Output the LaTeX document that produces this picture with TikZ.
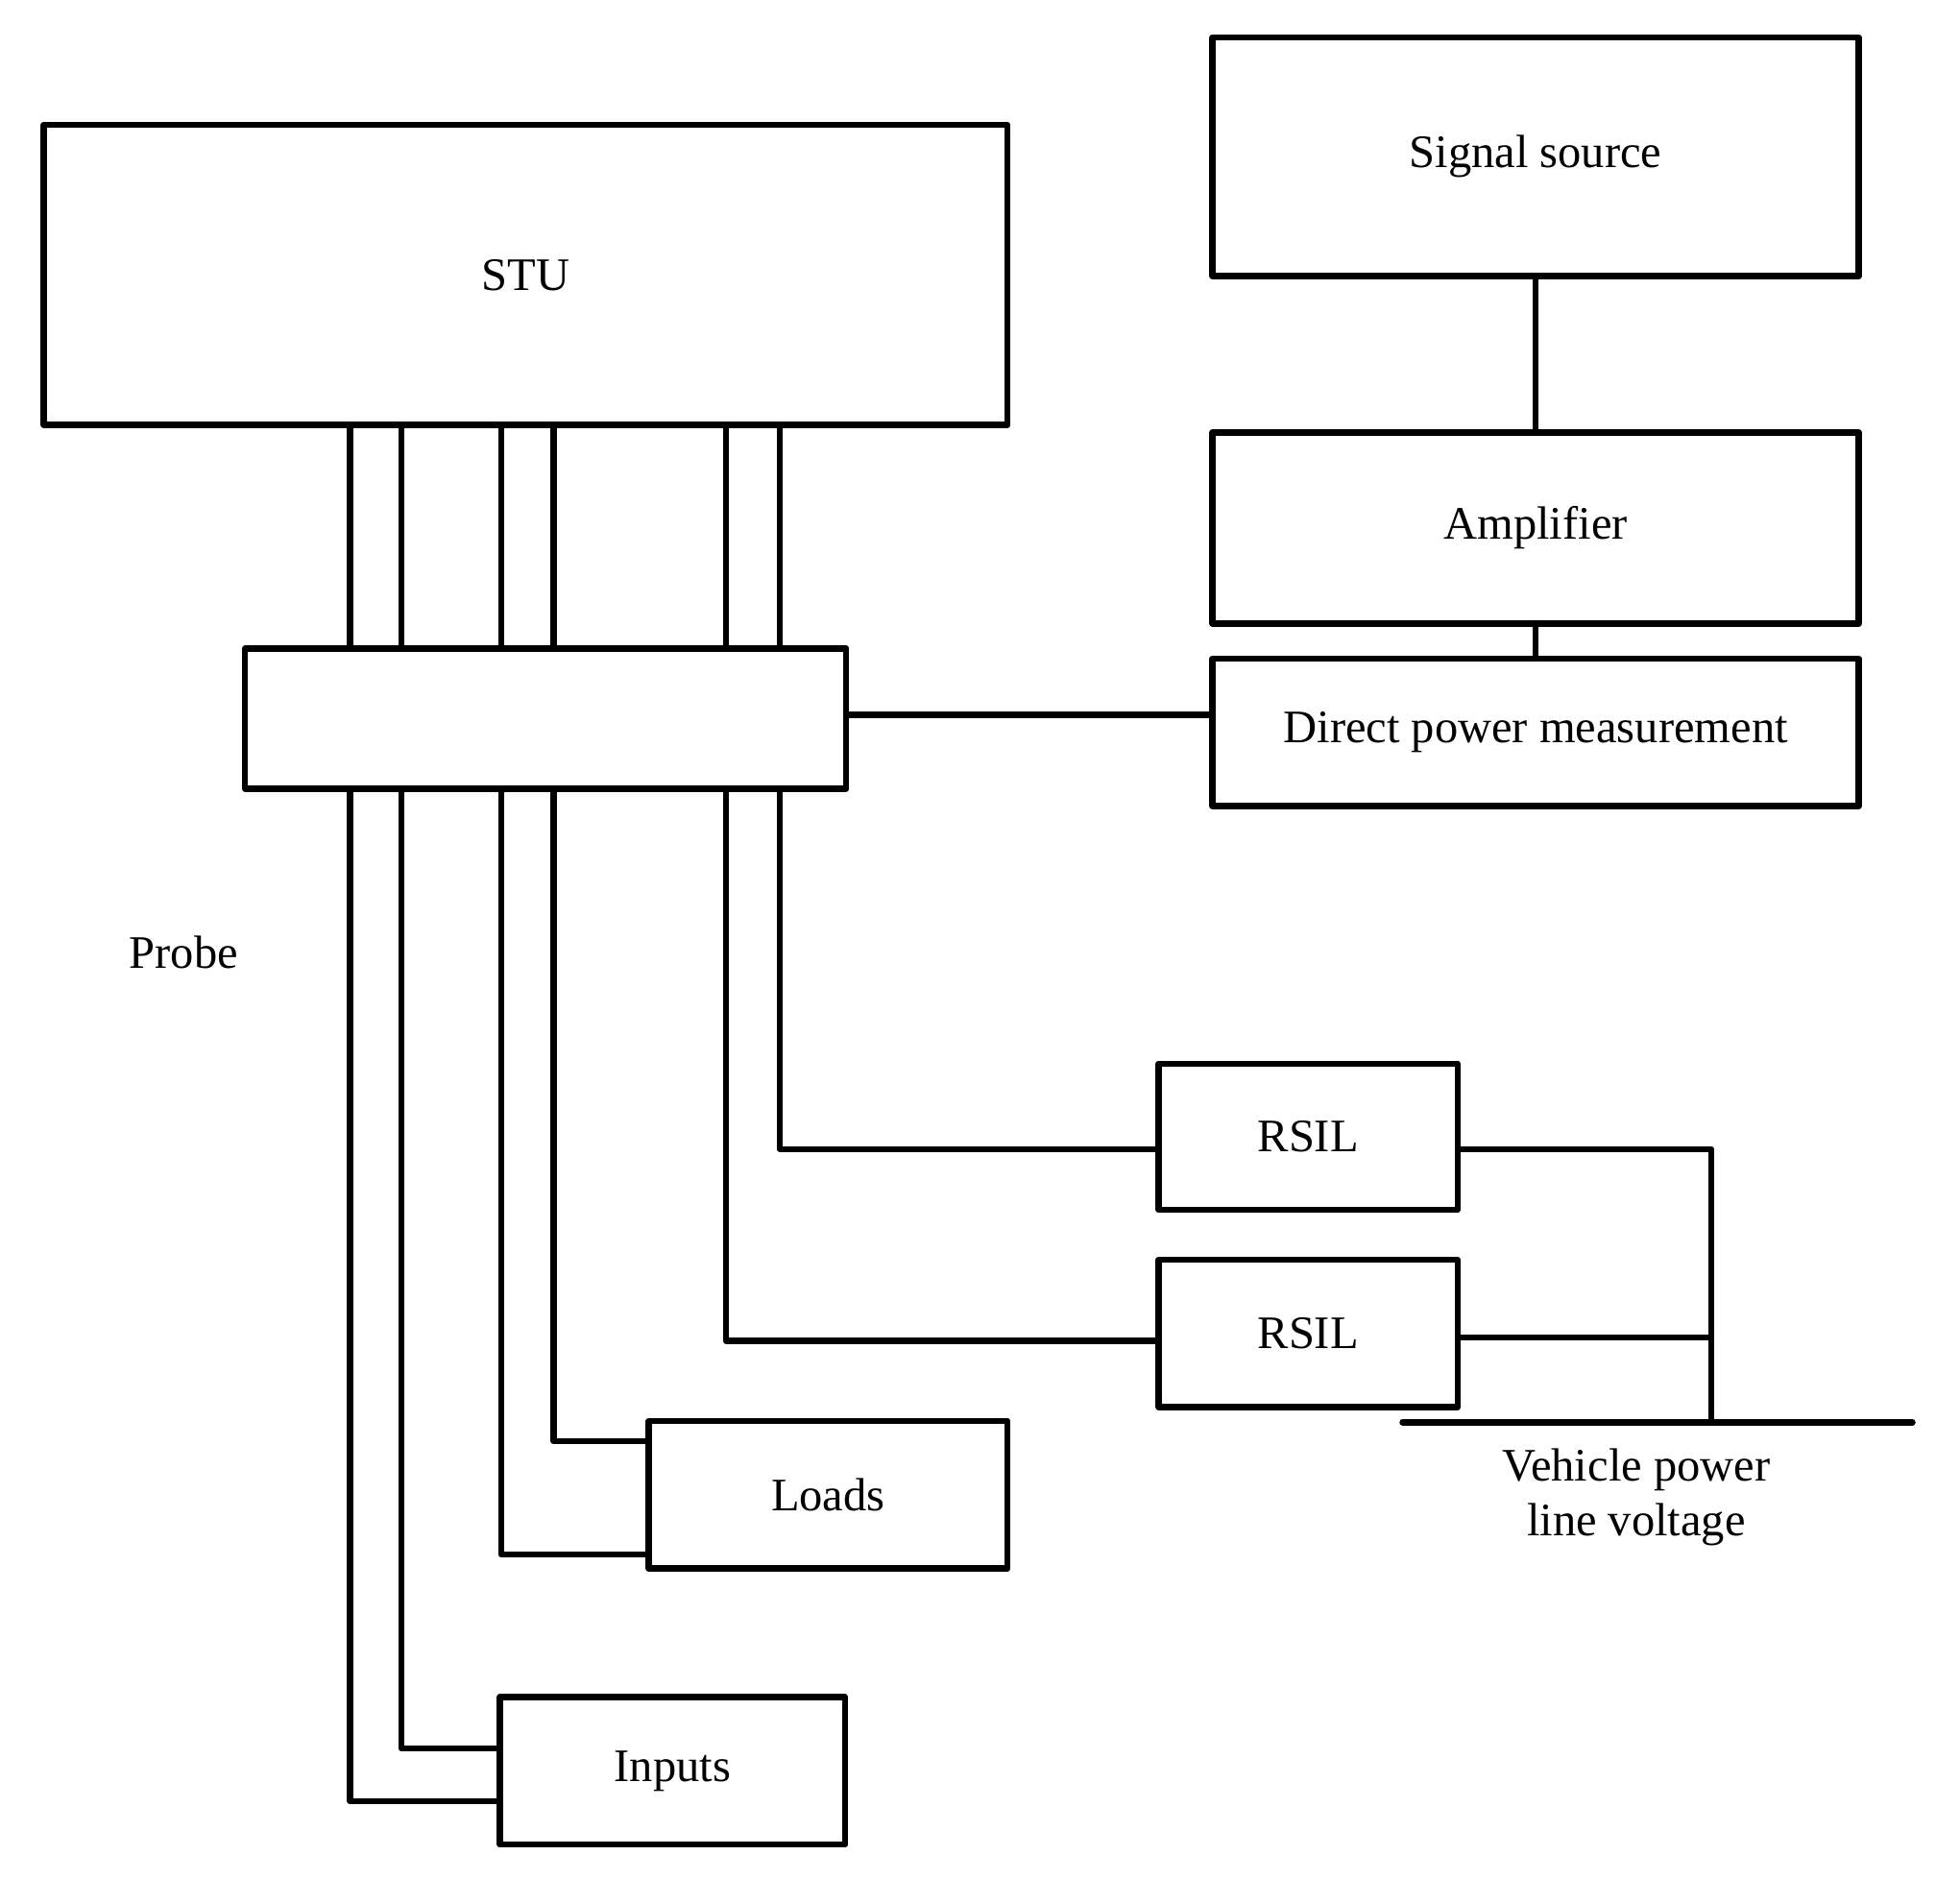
\documentclass[tikz,border=0pt]{standalone}
\usepackage{fontspec}
\setmainfont{Liberation Serif}
\begin{document}
\begin{tikzpicture}[line cap=round, line join=round,
  every node/.style={font=\fontsize{10.6}{12.5}\selectfont},
  blk/.style={draw, line width=1.4pt, inner sep=0pt},
  wire/.style={line width=1.4pt}]

\useasboundingbox (0,0) rectangle (15.68,-15.22);

% boxes
\node[blk, minimum width=7.71cm, minimum height=2.40cm] (stu) at (4.205,-2.20) {STU};
\node[blk, minimum width=5.17cm, minimum height=1.91cm] (sig) at (12.285,-1.255) {Signal source};
\node[blk, minimum width=5.17cm, minimum height=1.53cm] (amp) at (12.285,-4.225) {Amplifier};
\node[blk, minimum width=5.17cm, minimum height=1.18cm] (dpm) at (12.285,-5.86) {Direct power measurement};
\node[blk, minimum width=4.81cm, minimum height=1.12cm] (pbox) at (4.365,-5.75) {};
\node[blk, minimum width=2.39cm, minimum height=1.17cm] (rsilA) at (10.465,-9.095) {RSIL};
\node[blk, minimum width=2.39cm, minimum height=1.18cm] (rsilB) at (10.465,-10.67) {RSIL};
\node[blk, minimum width=2.87cm, minimum height=1.18cm] (loads) at (6.625,-11.96) {Loads};
\node[blk, minimum width=2.76cm, minimum height=1.18cm] (inputs) at (5.38,-14.17) {Inputs};

\node (probe) at (1.47,-7.62) {Probe};
\node[align=center] (vpl) at (13.09,-11.98) {Vehicle power\\line voltage};

% cables from the STU through the probe box
\foreach \x in {2.80,3.21,4.01,4.43,5.81,6.24}
  \draw[wire] (\x,0 |- stu.south) -- (\x,0 |- pbox.north);

\draw[wire] (2.80,0 |- pbox.south) |- ([yshift=-2.4mm]inputs.west);
\draw[wire] (3.21,0 |- pbox.south) |- ([yshift=1.8mm]inputs.west);
\draw[wire] (4.01,0 |- pbox.south) |- ([yshift=-4.8mm]loads.west);
\draw[wire] (4.43,0 |- pbox.south) |- ([yshift=4.3mm]loads.west);
\draw[wire] (5.81,0 |- pbox.south) |- ([yshift=-0.6mm]rsilB.west);
\draw[wire] (6.24,0 |- pbox.south) |- ([yshift=-1.0mm]rsilA.west);

% measurement chain
\draw[wire] (sig.south) -- (amp.north);
\draw[wire] (amp.south) -- (dpm.north);
\draw[wire] ([yshift=0.3mm]pbox.east) -- ([yshift=0.3mm]pbox.east -| dpm.west);

% power line
\coordinate (busL) at (11.22,-11.38);
\coordinate (busR) at (15.30,-11.38);
\coordinate (jn) at (13.69,-11.38);
\draw[wire] (busL) -- (busR);
\draw[wire] ([yshift=-1.0mm]rsilA.east) -| (jn);
\draw[wire] ([yshift=-0.3mm]rsilB.east) -- ([yshift=-0.3mm]rsilB.east -| jn);

\end{tikzpicture}
\end{document}
